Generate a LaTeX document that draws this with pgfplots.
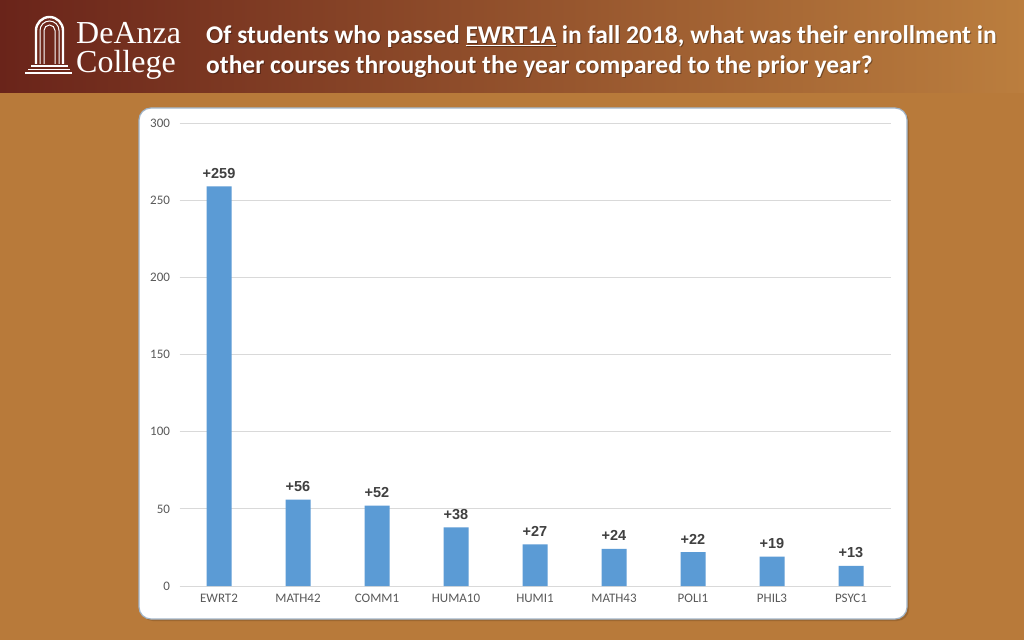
\documentclass[border=0pt]{standalone}
\usepackage{pgfplots}
\pgfplotsset{compat=1.18}
\usepackage{fontspec}
\setmainfont{Carlito}
\newfontfamily\arialfont{Liberation Sans}
\newfontfamily\logofont{Liberation Serif}

\definecolor{hdrL}{RGB}{106,36,26}
\definecolor{hdrR}{RGB}{187,126,62}
\definecolor{pagebg}{RGB}{184,122,58}
\definecolor{barblue}{RGB}{91,155,213}
\definecolor{gridgray}{RGB}{217,217,217}
\definecolor{tickgray}{RGB}{89,89,89}
\definecolor{lblgray}{RGB}{64,64,64}
\definecolor{panelborder}{RGB}{160,180,200}

\begin{document}
\begin{tikzpicture}[x=1pt,y=1pt]
% page
\fill[pagebg] (0,0) rectangle (1024,640);
\shade[left color=hdrL, right color=hdrR] (0,547) rectangle (1024,640);
\useasboundingbox (0,0) rectangle (1024,640);

% logo (rough)
\begin{scope}[white]
  \draw[line width=2.4] (36,576) -- (36,609.5) arc[start angle=180,end angle=0,radius=13.5] -- (63,576);
  \draw[line width=1] (40,576) -- (40,609.5) arc[start angle=180,end angle=0,radius=9.5] -- (59,576);
  \draw[line width=1] (44,576) -- (44,609.5) arc[start angle=180,end angle=0,radius=5.5] -- (55,576);
  \draw[line width=1.5] (31,574) -- (68,574);
  \draw[line width=1.5] (28,570.5) -- (70,570.5);
  \draw[line width=1.5] (25,567) -- (72,567);
\end{scope}
\node[anchor=base west, inner sep=0, text=white, font=\logofont\fontsize{32}{32}\selectfont] at (76,596) {DeAnza};
\node[anchor=base west, inner sep=0, text=white, font=\logofont\fontsize{32}{32}\selectfont] at (76,567) {College};

% title
\begin{scope}[font=\bfseries\fontsize{25.5}{30}\selectfont]
  \node[anchor=base west, inner sep=0, text=black, opacity=0.35] at (207,595) {Of students who passed \underline{EWRT1A} in fall 2018, what was their enrollment in};
  \node[anchor=base west, inner sep=0, text=black, opacity=0.35] at (207,565) {other courses throughout the year compared to the prior year?};
  \node[anchor=base west, inner sep=0, text=white] at (206,596) {Of students who passed \underline{EWRT1A} in fall 2018, what was their enrollment in};
  \node[anchor=base west, inner sep=0, text=white] at (206,566) {other courses throughout the year compared to the prior year?};
\end{scope}

% panel
\fill[black, opacity=0.15, rounded corners=12] (141,19) rectangle (909,530);
\draw[fill=white, draw=panelborder, line width=1.2, rounded corners=12] (139,21) rectangle (907,532);

\begin{axis}[
    at={(179.5pt,54pt)}, anchor=south west,
    scale only axis, width=711pt, height=463pt,
    ybar, bar width=25pt,
    xmin=-0.5, xmax=8.5, ymin=0, ymax=300,
    ytick={0,50,...,300},
    xtick={0,...,8},
    xticklabels={EWRT2,MATH42,COMM1,HUMA10,HUMI1,MATH43,POLI1,PHIL3,PSYC1},
    ymajorgrids, grid style={gridgray, line width=0.9pt},
    axis line style={draw=none},
    major tick length=0pt,
    tick label style={font=\fontsize{13}{15}\selectfont, text=tickgray},
    /pgf/number format/assume math mode=true,
    yticklabel style={xshift=-6pt},
    xticklabel style={yshift=-5pt},
    nodes near coords={+\pgfmathprintnumber{\pgfplotspointmeta}},
    every node near coord/.append style={font=\arialfont\bfseries\fontsize{14.5}{16}\selectfont,
        text=lblgray, anchor=south, yshift=4.5pt},
    clip=false,
]
\addplot[fill=barblue, draw=none] coordinates {
    (0,259) (1,56) (2,52) (3,38) (4,27) (5,24) (6,22) (7,19) (8,13)
};
\end{axis}
\end{tikzpicture}
\end{document}
